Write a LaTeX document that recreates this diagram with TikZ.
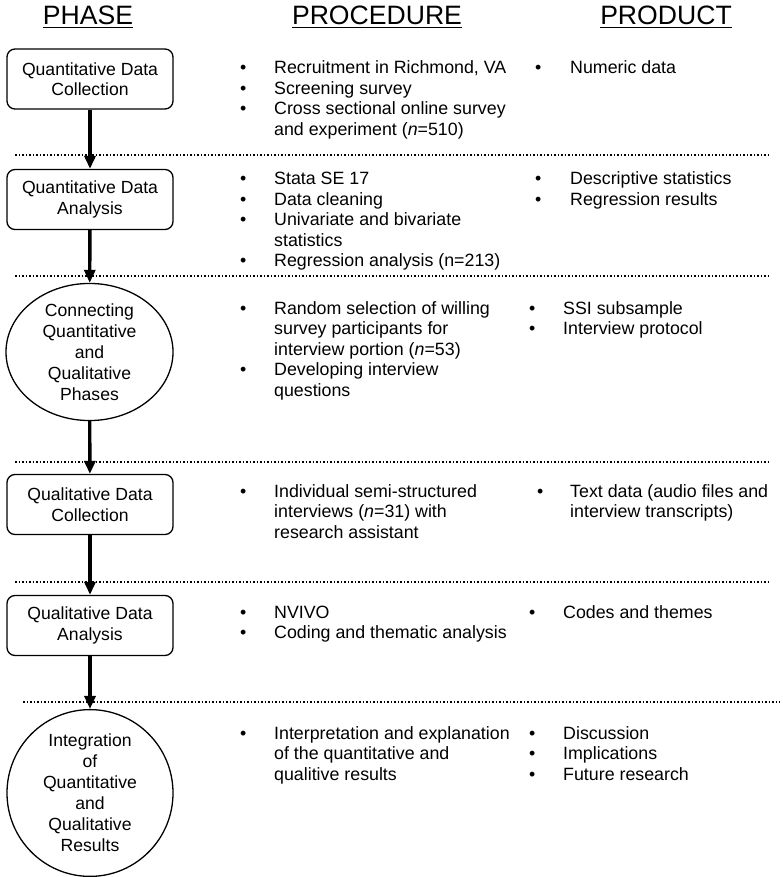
\documentclass[tikz,border=0pt]{standalone}
\usepackage{fontspec}
\setmainfont{Liberation Sans}
\usetikzlibrary{shapes.geometric,arrows.meta}
\newcommand\bul[1][34pt]{\makebox[#1][l]{•}}
\begin{document}
\begin{tikzpicture}[x=1pt,y=-1pt,
  txt/.style={font=\fontsize{17.8}{20.5}\selectfont, inner sep=0pt, anchor=base west},
  hdr/.style={font=\fontsize{26.6}{30}\selectfont, inner sep=0pt, anchor=base},
  phasebox/.style={draw, line width=1.3pt, rounded corners=8pt, minimum width=166pt, minimum height=60pt, inner sep=0pt, align=center, font=\fontsize{17.6}{20.5}\selectfont},
  phaseoval/.style={draw, line width=1.3pt, ellipse, inner sep=0pt, align=center, font=\fontsize{17.6}{21}\selectfont},
  flow/.style={line width=3.4pt, -{Triangle[length=13pt,width=11pt]}},
  sep/.style={line width=1.8pt, dash pattern=on 1.8pt off 1.7pt},
  uline/.style={line width=1.5pt}]
\useasboundingbox (0,0) rectangle (782,877);

% headers
\node[hdr] (hphase) at (88,25) {PHASE};
\node[hdr] (hproc) at (377,25) {PROCEDURE};
\node[hdr] (hprod) at (666,25) {PRODUCT};
\foreach \h in {hphase,hproc,hprod}
  \draw[uline] ([yshift=-2.6pt]\h.base west) -- ([yshift=-2.6pt]\h.base east);

% phases
\node[phasebox] (ph1) at (90,79) {Quantitative Data\\Collection};
\node[phasebox] (ph2) at (90,199.5) {Quantitative Data\\Analysis};
\node[phaseoval, minimum width=167pt, minimum height=124pt] (ph3) at (89.5,352) {Connecting\\Quantitative\\and\\Qualitative\\Phases};
\node[phasebox] (ph4) at (90,504.5) {Qualitative Data\\Collection};
\node[phasebox] (ph5) at (90,625.5) {Qualitative Data\\Analysis};
\node[phaseoval, minimum width=166pt, minimum height=156pt] (ph6) at (90,793) {Integration\\of\\Quantitative\\and\\Qualitative\\Results};

% arrows
\draw[flow] (ph1) -- (ph2);
\draw[flow] (ph2) -- (ph3);
\draw[flow] (ph3) -- (ph4);
\draw[flow] (ph4) -- (ph5);
\draw[flow] (ph5) -- (ph6);

% separators
\draw[sep] (15,155) -- (770,155);
\draw[sep] (15,276) -- (770,276);
\draw[sep] (15,462) -- (770,462);
\draw[sep] (15,582) -- (770,582);
\draw[sep] (23,702) -- (780,702);

% procedures
\node[txt] (pr1) at (240,74) {\begin{tabular}[t]{@{}l@{}l@{}}\bul&Recruitment in Richmond, VA\\\bul&Screening survey\\\bul&Cross sectional online survey\\&and experiment (\textit{n}=510)\end{tabular}};
\node[txt] (pr2) at (240,185) {\begin{tabular}[t]{@{}l@{}l@{}}\bul&Stata SE 17\\\bul&Data cleaning\\\bul&Univariate and bivariate\\&statistics\\\bul&Regression analysis (n=213)\end{tabular}};
\node[txt] (pr3) at (240,314) {\begin{tabular}[t]{@{}l@{}l@{}}\bul&Random selection of willing\\&survey participants for\\&interview portion (\textit{n}=53)\\\bul&Developing interview\\&questions\end{tabular}};
\node[txt] (pr4) at (240,497) {\begin{tabular}[t]{@{}l@{}l@{}}\bul&Individual semi-structured\\&interviews (\textit{n}=31) with\\&research assistant\end{tabular}};
\node[txt] (pr5) at (240,618) {\begin{tabular}[t]{@{}l@{}l@{}}\bul&NVIVO\\\bul&Coding and thematic analysis\end{tabular}};
\node[txt] (pr6) at (240,739) {\begin{tabular}[t]{@{}l@{}l@{}}\bul&Interpretation and explanation\\&of the quantitative and\\&qualitive results\end{tabular}};

% products
\node[txt] (po1) at (535,74) {\begin{tabular}[t]{@{}l@{}l@{}}\bul[35pt]&Numeric data\end{tabular}};
\node[txt] (po2) at (535,185) {\begin{tabular}[t]{@{}l@{}l@{}}\bul[35pt]&Descriptive statistics\\\bul[35pt]&Regression results\end{tabular}};
\node[txt] (po3) at (529,314) {\begin{tabular}[t]{@{}l@{}l@{}}\bul&SSI subsample\\\bul&Interview protocol\end{tabular}};
\node[txt] (po4) at (537,497) {\begin{tabular}[t]{@{}l@{}l@{}}\bul[33pt]&Text data (audio files and\\&interview transcripts)\end{tabular}};
\node[txt] (po5) at (529,618) {\begin{tabular}[t]{@{}l@{}l@{}}\bul&Codes and themes\end{tabular}};
\node[txt] (po6) at (529,739) {\begin{tabular}[t]{@{}l@{}l@{}}\bul&Discussion\\\bul&Implications\\\bul&Future research\end{tabular}};
\end{tikzpicture}
\end{document}
